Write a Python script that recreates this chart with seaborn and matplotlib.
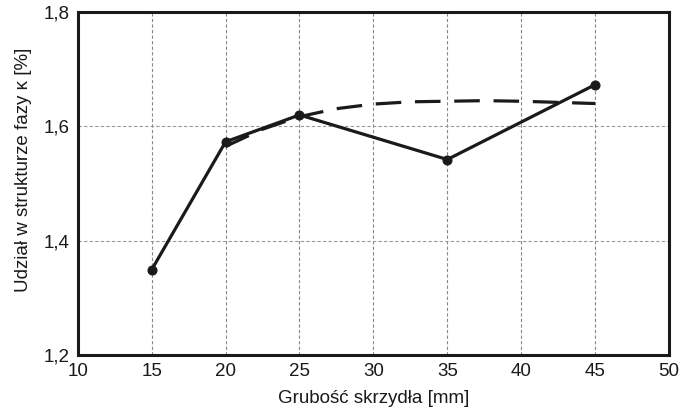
import matplotlib
matplotlib.use("Agg")
import matplotlib.pyplot as plt
import seaborn as sns
import pandas as pd

thickness = [15, 20, 25, 35, 45]
kappa_share = [1.349, 1.573, 1.620, 1.542, 1.673]

trend_x = [20, 22.5, 25, 27.5, 30, 32.5, 35, 37.5, 40, 42.5, 45]
trend_y = [1.565, 1.595, 1.617, 1.631, 1.639, 1.643, 1.644, 1.645, 1.644, 1.642, 1.640]

x_ticks = [10, 15, 20, 25, 30, 35, 40, 45, 50]
y_ticks = [1.2, 1.4, 1.6, 1.8]
y_tick_labels = ["1,2", "1,4", "1,6", "1,8"]

sns.set_style("white")
plt.rcParams['font.family'] = ['Liberation Sans', 'DejaVu Sans']

fig = plt.figure(figsize=(6.82, 4.18), dpi=100)
ax = fig.add_axes([0.114, 0.151, 0.867, 0.820])

df = pd.DataFrame({"x": thickness, "y": kappa_share})
tr = pd.DataFrame({"x": trend_x, "y": trend_y})

sns.lineplot(data=tr, x="x", y="y", ax=ax, color="#1a1a1a", lw=2.3,
             dashes=False, linestyle=(0, (8, 4.3)), zorder=3)
sns.lineplot(data=df, x="x", y="y", ax=ax, color="#1a1a1a", lw=2.3,
             marker="o", markersize=6.5, markeredgecolor="#1a1a1a", zorder=4)

ax.set_xlim(10, 50)
ax.set_ylim(1.2, 1.8)
ax.set_xticks(x_ticks)
ax.set_yticks(y_ticks)
ax.set_yticklabels(y_tick_labels)
ax.tick_params(axis='both', length=0, labelsize=13.5, colors="#1a1a1a")
ax.tick_params(axis='x', pad=6)
ax.tick_params(axis='y', pad=6)

for xv in x_ticks[1:-1]:
    ax.axvline(xv, color="#888888", lw=0.8, ls=(0, (3, 2)), zorder=1)
for yv in y_ticks[1:-1]:
    ax.axhline(yv, color="#999999", lw=0.8, ls=(0, (3, 2)), zorder=1)

for s in ax.spines.values():
    s.set_visible(True)
    s.set_color("#1a1a1a")
    s.set_linewidth(2.2)

ax.set_xlabel("Grubość skrzydła [mm]", fontsize=13.5, color="#1a1a1a", labelpad=7)
ax.set_ylabel("Udział w strukturze fazy κ [%]", fontsize=13.5, color="#1a1a1a", labelpad=8)
ax.yaxis.set_label_coords(-0.077, 0.54)

fig.savefig("out.png", dpi=100)
